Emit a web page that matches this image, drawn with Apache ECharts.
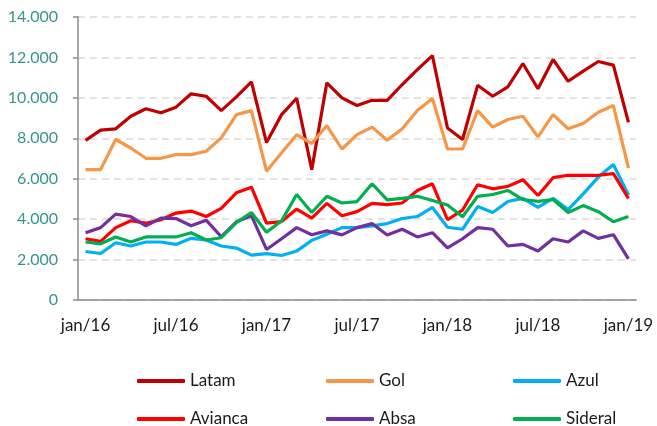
<!DOCTYPE html>
<html>
<head>
<meta charset="utf-8">
<script src="https://cdn.jsdelivr.net/npm/echarts@6/dist/echarts.min.js"></script>
<style>
  html, body { margin: 0; padding: 0; background: #fff; }
  #chart { width: 657px; height: 426px; }
</style>
</head>
<body>
<div id="chart"></div>
<script>
// meses jan/16 .. jan/19
const months = ['jan/16','fev/16','mar/16','abr/16','mai/16','jun/16','jul/16','ago/16','set/16','out/16','nov/16','dez/16',
  'jan/17','fev/17','mar/17','abr/17','mai/17','jun/17','jul/17','ago/17','set/17','out/17','nov/17','dez/17',
  'jan/18','fev/18','mar/18','abr/18','mai/18','jun/18','jul/18','ago/18','set/18','out/18','nov/18','dez/18',
  'jan/19']

const latam = [7900, 8400, 8470, 9090, 9460, 9260, 9540, 10200, 10080, 9370, 10050, 10790,
  7790, 9170, 9980, 6450, 10740, 10000, 9620, 9880, 9880, 10660, 11400, 12090,
  8510, 7940, 10620, 10080, 10540, 11700, 10450, 11900, 10820, 11320, 11800, 11620, 8790]
const gol = [6450, 6450, 7940, 7520, 7010, 7010, 7190, 7190, 7360, 8020, 9170, 9370,
  6370, 7280, 8180, 7740, 8630, 7470, 8180, 8550, 7900, 8470, 9370, 9970,
  7470, 7470, 9370, 8550, 8930, 9090, 8070, 9170, 8470, 8730, 9290, 9620, 6530]
const azul = [2400, 2300, 2830, 2670, 2870, 2870, 2750, 3050, 2970, 2670, 2570, 2220,
  2290, 2200, 2420, 2950, 3250, 3580, 3580, 3670, 3780, 4030, 4130, 4580,
  3600, 3500, 4620, 4330, 4870, 5030, 4580, 5030, 4470, 5250, 6080, 6700, 5200]
const avianca = [3030, 2900, 3580, 3920, 3800, 3970, 4300, 4400, 4130, 4530, 5300, 5580,
  3800, 3880, 4500, 4050, 4780, 4170, 4370, 4780, 4720, 4800, 5420, 5750,
  3970, 4450, 5700, 5500, 5620, 5950, 5170, 6050, 6170, 6170, 6170, 6250, 5030]
const absa = [3330, 3580, 4250, 4130, 3670, 4050, 4030, 3670, 3950, 3130, 3870, 4170,
  2500, 3030, 3580, 3230, 3420, 3220, 3580, 3780, 3220, 3500, 3120, 3330,
  2580, 3030, 3580, 3500, 2670, 2750, 2420, 3030, 2870, 3420, 3050, 3230, 2030]
const sideral = [2870, 2780, 3120, 2870, 3120, 3120, 3120, 3330, 2970, 3080, 3830, 4330,
  3350, 3920, 5220, 4330, 5130, 4800, 4870, 5750, 4950, 5030, 5130, 4920,
  4700, 4120, 5130, 5220, 5420, 4970, 4880, 4970, 4330, 4670, 4370, 3870, 4130]

const seriesNames = ['Latam', 'Gol', 'Azul', 'Avianca', 'Absa', 'Sideral']
const seriesData = [latam, gol, azul, avianca, absa, sideral]
const colors = ['#C00000', '#F79646', '#00B0F0', '#FF0000', '#7030A0', '#00B050']

const chart = echarts.init(document.getElementById('chart'))

// legenda em 3 colunas x 2 linhas
const legendCols = [132, 321, 508]
const legendRows = [366, 404]
const legends = seriesNames.map((name, i) => ({
  data: [name],
  left: legendCols[i % 3],
  top: legendRows[Math.floor(i / 3)],
  icon: 'roundRect',
  itemWidth: 48,
  itemHeight: 4,
  itemGap: 0,
  selectedMode: false,
  textStyle: { fontFamily: 'Lato', fontSize: 17, color: '#1a1a1a', lineHeight: 20 }
}))

const option = {
  animation: false,
  color: colors,
  grid: { left: 78, right: 21, top: 17, bottom: 126 },
  legend: legends,
  xAxis: {
    type: 'category',
    data: months,
    boundaryGap: true,
    axisLine: { lineStyle: { color: '#8c8c8c', width: 1.5 } },
    axisTick: { interval: 5, length: 6, lineStyle: { color: '#8c8c8c', width: 1.5 } },
    axisLabel: {
      interval: 5, margin: 17,
      fontFamily: 'Lato', fontSize: 17, color: '#1a1a1a'
    }
  },
  yAxis: {
    type: 'value',
    min: 0,
    max: 14000,
    interval: 2000,
    axisLine: { show: true, lineStyle: { color: '#8c8c8c', width: 1.5 } },
    axisTick: { show: true, length: 5, lineStyle: { color: '#8c8c8c', width: 1.5 } },
    axisLabel: {
      margin: 20,
      fontFamily: 'Lato', fontSize: 16, color: '#35958E',
      formatter: v => v === 0 ? '0' : String(v).replace(/\B(?=(\d{3})+(?!\d))/g, '.')
    },
    splitLine: { lineStyle: { color: '#D9D9D9', width: 1.5, type: [7, 5] } }
  },
  series: seriesNames.map((name, i) => ({
    name: name,
    type: 'line',
    data: seriesData[i],
    symbol: 'none',
    lineStyle: { width: 3.2, color: colors[i] },
    itemStyle: { color: colors[i] }
  }))
}

chart.setOption(option)
</script>
</body>
</html>
